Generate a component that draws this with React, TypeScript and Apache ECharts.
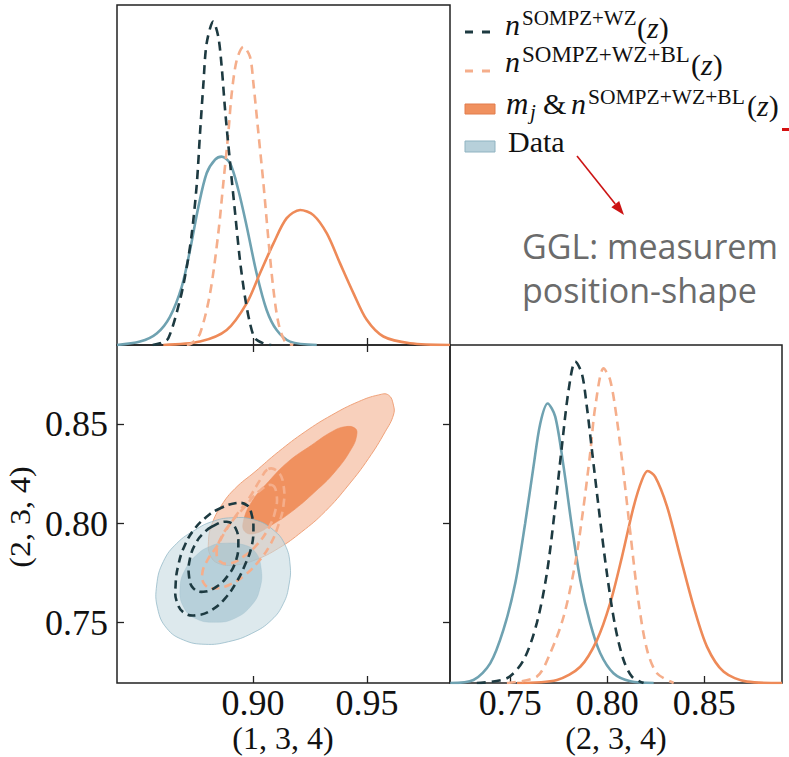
import React, { useEffect, useRef } from "react";
import * as echarts from "echarts";

// ---------- axis ranges & ticks ----------
const X1_MIN = 0.8404;
const X1_MAX = 0.9864;
const X2_MIN = 0.719;
const X2_MAX = 0.89;
const TICKS_1 = [0.9, 0.95];
const TICKS_2 = [0.75, 0.8, 0.85];
const NAME_1 = "(1, 3, 4)";
const NAME_2 = "(2, 3, 4)";

// ---------- 1D marginals, parameter (1,3,4): [value, relative density] ----------
const p1_sompzWz = [
  [0.856, 0], [0.8593, 0.005], [0.8629, 0.02], [0.868, 0.132], [0.871, 0.23], [0.8732, 0.328],
  [0.8754, 0.475], [0.8768, 0.623], [0.8783, 0.77], [0.8797, 0.887], [0.8826, 0.951], [0.8848, 0.907],
  [0.8863, 0.818], [0.8878, 0.691], [0.89, 0.534], [0.8922, 0.387], [0.8943, 0.25], [0.8965, 0.142],
  [0.8987, 0.064], [0.9009, 0.02], [0.9046, 0.005], [0.908, 0],
];
const p1_sompzWzBl = [
  [0.871, 0], [0.8732, 0.005], [0.8768, 0.034], [0.8812, 0.152], [0.8848, 0.328], [0.887, 0.475],
  [0.8892, 0.623], [0.8907, 0.74], [0.8929, 0.838], [0.8958, 0.877], [0.8987, 0.848], [0.9002, 0.77],
  [0.9024, 0.623], [0.9046, 0.475], [0.9068, 0.309], [0.909, 0.162], [0.9112, 0.064], [0.9141, 0.01],
  [0.9177, 0],
];
const p1_data = [
  [0.8404, 0], [0.8505, 0.01], [0.8578, 0.034], [0.8636, 0.083], [0.8688, 0.172], [0.8724, 0.279],
  [0.8761, 0.407], [0.8797, 0.505], [0.8834, 0.545], [0.8863, 0.554], [0.89, 0.534], [0.8936, 0.456],
  [0.8973, 0.348], [0.9016, 0.211], [0.906, 0.103], [0.9104, 0.044], [0.9163, 0.01], [0.928, 0],
];
const p1_mj = [
  [0.8607, 0], [0.8768, 0.01], [0.8885, 0.044], [0.8973, 0.123], [0.9031, 0.211], [0.909, 0.299],
  [0.9148, 0.373], [0.9207, 0.397], [0.9265, 0.382], [0.9324, 0.328], [0.9382, 0.24], [0.9441, 0.152],
  [0.9499, 0.074], [0.9572, 0.025], [0.9689, 0.005], [0.9864, 0],
];

// ---------- 1D marginals, parameter (2,3,4) ----------
const p2_sompzWz = [
  [0.7328, 0], [0.7483, 0.014], [0.7569, 0.068], [0.7637, 0.177], [0.7689, 0.325], [0.7732, 0.522],
  [0.7766, 0.699], [0.7801, 0.867], [0.7835, 0.951], [0.7869, 0.916], [0.7895, 0.817], [0.7921, 0.689],
  [0.7955, 0.522], [0.7998, 0.325], [0.8041, 0.167], [0.8084, 0.068], [0.8127, 0.019], [0.8187, 0],
];
const p2_sompzWzBl = [
  [0.7483, 0], [0.7637, 0.019], [0.7706, 0.088], [0.7775, 0.196], [0.7835, 0.354], [0.7878, 0.522],
  [0.7912, 0.68], [0.7938, 0.817], [0.7981, 0.931], [0.8015, 0.896], [0.805, 0.778], [0.8084, 0.62],
  [0.8119, 0.443], [0.8162, 0.236], [0.8205, 0.098], [0.8256, 0.029], [0.8342, 0],
];
const p2_data = [
  [0.7191, 0], [0.7311, 0.009], [0.7397, 0.058], [0.7465, 0.157], [0.7526, 0.295], [0.7577, 0.472],
  [0.762, 0.64], [0.7655, 0.768], [0.7693, 0.827], [0.7732, 0.788], [0.7775, 0.64], [0.7818, 0.462],
  [0.7861, 0.305], [0.7912, 0.177], [0.7964, 0.088], [0.8032, 0.029], [0.8119, 0.005], [0.8239, 0],
];
const p2_mj = [
  [0.7535, 0], [0.7741, 0.009], [0.7861, 0.048], [0.7947, 0.127], [0.8015, 0.236], [0.8076, 0.374],
  [0.8136, 0.522], [0.8179, 0.601], [0.8208, 0.627], [0.8247, 0.61], [0.8308, 0.522], [0.8376, 0.374],
  [0.8445, 0.226], [0.8514, 0.107], [0.86, 0.033], [0.872, 0.004], [0.89, 0],
];

// ---------- 2D contours: [(1,3,4), (2,3,4)] ----------
const c_mj_outer = [
  [0.9616, 0.8597], [0.9594, 0.8648], [0.955, 0.8648], [0.9462, 0.8614], [0.9346, 0.8547], [0.9229, 0.8463],
  [0.9112, 0.8362], [0.9009, 0.8261], [0.8922, 0.8177], [0.8863, 0.8093], [0.8819, 0.7993], [0.8805, 0.7908],
  [0.8812, 0.7842], [0.8848, 0.7799], [0.8922, 0.7791], [0.9009, 0.7816], [0.9112, 0.7875], [0.9214, 0.7958],
  [0.9316, 0.806], [0.9419, 0.8194], [0.9507, 0.8328], [0.958, 0.8463], [0.9616, 0.8547],
];
const c_mj_inner = [
  [0.9448, 0.848], [0.9404, 0.8488], [0.9346, 0.8463], [0.9258, 0.8396], [0.9155, 0.8312], [0.9068, 0.8211],
  [0.8995, 0.811], [0.8958, 0.8009], [0.8965, 0.7959], [0.9009, 0.795], [0.9082, 0.7993], [0.917, 0.806],
  [0.9272, 0.816], [0.936, 0.8261], [0.9433, 0.8379], [0.9455, 0.8446],
];
const c_data_outer = [
  [0.8907, 0.8029], [0.9009, 0.8018], [0.909, 0.7967], [0.9141, 0.7892], [0.9163, 0.7791], [0.9158, 0.769],
  [0.9134, 0.7598], [0.9082, 0.7514], [0.8995, 0.7446], [0.8892, 0.7404], [0.879, 0.7391], [0.8695, 0.7413],
  [0.8622, 0.7472], [0.8582, 0.7572], [0.8578, 0.769], [0.8607, 0.7808], [0.8666, 0.79], [0.8746, 0.7967],
  [0.8819, 0.8009],
];
const c_data_inner = [
  [0.8863, 0.79], [0.8951, 0.7895], [0.9009, 0.7858], [0.9036, 0.7774], [0.9031, 0.7673], [0.8995, 0.7589],
  [0.8921, 0.7522], [0.8834, 0.7502], [0.8746, 0.7522], [0.8695, 0.7581], [0.868, 0.7673], [0.8702, 0.7766],
  [0.8761, 0.785], [0.8819, 0.7888],
];
const c_wz_outer = [
  [0.8841, 0.8068], [0.8922, 0.8102], [0.8973, 0.8093], [0.8995, 0.8043], [0.9002, 0.7959], [0.8992, 0.7875],
  [0.8965, 0.7791], [0.8929, 0.7707], [0.8878, 0.7623], [0.8819, 0.7564], [0.8761, 0.7539], [0.8702, 0.7547],
  [0.8666, 0.7606], [0.8661, 0.769], [0.8673, 0.7791], [0.8702, 0.7892], [0.8746, 0.7976], [0.8797, 0.8034],
];
const c_wz_inner = [
  [0.8819, 0.7984], [0.8885, 0.8009], [0.8924, 0.7976], [0.8936, 0.7892], [0.8924, 0.7808], [0.8892, 0.774],
  [0.8841, 0.7682], [0.8783, 0.7656], [0.8739, 0.7673], [0.872, 0.7732], [0.8724, 0.7824], [0.8753, 0.7908],
  [0.879, 0.7959],
];
const c_wzbl_outer = [
  [0.9068, 0.8275], [0.9112, 0.8258], [0.9134, 0.8194], [0.9134, 0.8093], [0.9112, 0.7993], [0.9075, 0.7892],
  [0.9024, 0.7808], [0.8965, 0.774], [0.89, 0.7693], [0.8834, 0.7673], [0.879, 0.769], [0.8778, 0.7749],
  [0.8805, 0.7824], [0.8841, 0.7883], [0.8878, 0.7959], [0.8922, 0.8034], [0.8987, 0.8135], [0.9031, 0.8219],
];
const c_wzbl_inner = [
  [0.9082, 0.8194], [0.9104, 0.8144], [0.9097, 0.806], [0.9068, 0.7976], [0.9017, 0.7892], [0.8958, 0.7833],
  [0.89, 0.7799], [0.8856, 0.7808], [0.8841, 0.7858], [0.8863, 0.7934], [0.8907, 0.8009], [0.8965, 0.8085],
  [0.9024, 0.816],
];

// ---------- styling ----------
const DARK = "#1d3a41";
const LIGHT_OR = "#f5ae8b";
const ORANGE = "#ee8a58";
const TEAL = "#6fa2b1";
const AX = "#222";
const SERIF = "Liberation Serif";

const line1D = (data: number[][], color: string, dashed: boolean, xi: number, yi: number, z: number) => ({
  type: "line",
  xAxisIndex: xi,
  yAxisIndex: yi,
  data,
  showSymbol: false,
  symbol: "none",
  smooth: 0.3,
  silent: true,
  z,
  lineStyle: { color, width: 2.6, type: dashed ? [9, 6] : "solid" },
});

const poly = (pts: number[][], style: any, z: number) => ({
  type: "custom",
  coordinateSystem: "cartesian2d",
  xAxisIndex: 1,
  yAxisIndex: 1,
  data: [pts[0]],
  silent: true,
  clip: true,
  z,
  renderItem: (_p: any, api: any) => ({
    type: "polygon",
    shape: { points: pts.map((p) => api.coord(p)), smooth: 0.45 },
    style,
  }),
});

const tickCfg = (vals: number[], show = true) => ({
  show,
  inside: true,
  length: 7,
  customValues: vals,
  lineStyle: { color: AX, width: 1.3 },
});
const labelCfg = (vals: number[], show: boolean, margin: number) => ({
  show,
  customValues: vals,
  margin,
  fontFamily: SERIF,
  fontSize: 36,
  color: "#111",
  formatter: (v: number) => v.toFixed(2),
});

// text helper anchored at (x, baseline)
const T = (x: number, baseline: number, text: string, size: number, italic = false, extra: any = {}, scaleY = 1) => ({
  type: "text",
  x,
  y: baseline,
  scaleY,
  silent: true,
  style: {
    x: 0,
    y: -0.3375 * size,
    text,
    fontFamily: SERIF,
    fontSize: size,
    fontStyle: italic ? "italic" : "normal",
    fill: "#111",
    align: "left",
    verticalAlign: "middle",
    ...extra,
  },
});
const ZRICH = { rich: { i: { fontStyle: "italic", fontSize: 30, fontFamily: SERIF, fill: "#111" } } };
const ZPAREN = (x: number, baseline: number) => T(x, baseline, "({i|z})", 30, false, ZRICH);

function buildOption() {
  const grid = [
    { left: 117, top: 5, width: 333, height: 340 },
    { left: 117, top: 345, width: 333, height: 338 },
    { left: 450, top: 345, width: 332, height: 338 },
  ].map((g) => ({ ...g, show: true, borderColor: AX, borderWidth: 1.5, backgroundColor: "transparent", containLabel: false, outerBoundsMode: "none" }));

  const xAxis = [
    { gridIndex: 0, type: "value", min: X1_MIN, max: X1_MAX, position: "bottom", axisLine: { show: false }, axisTick: tickCfg(TICKS_1), axisLabel: labelCfg(TICKS_1, false, 4), splitLine: { show: false } },
    { gridIndex: 1, type: "value", min: X1_MIN, max: X1_MAX, position: "bottom", axisLine: { show: false }, axisTick: tickCfg(TICKS_1), axisLabel: labelCfg(TICKS_1, true, 2), splitLine: { show: false } },
    { gridIndex: 1, type: "value", min: X1_MIN, max: X1_MAX, position: "top", axisLine: { show: false }, axisTick: tickCfg(TICKS_1), axisLabel: { show: false }, splitLine: { show: false } },
    { gridIndex: 2, type: "value", min: X2_MIN, max: X2_MAX, position: "bottom", axisLine: { show: false }, axisTick: tickCfg(TICKS_2), axisLabel: labelCfg(TICKS_2, true, 2), splitLine: { show: false } },
  ];
  const yAxis = [
    { gridIndex: 0, type: "value", min: 0, max: 1, show: false },
    { gridIndex: 1, type: "value", min: 0.7196, max: X2_MAX, position: "left", axisLine: { show: false }, axisTick: tickCfg(TICKS_2), axisLabel: labelCfg(TICKS_2, true, 9), splitLine: { show: false } },
    { gridIndex: 1, type: "value", min: 0.7196, max: X2_MAX, position: "right", axisLine: { show: false }, axisTick: tickCfg(TICKS_2), axisLabel: { show: false }, splitLine: { show: false } },
    { gridIndex: 2, type: "value", min: 0, max: 1, show: false },
  ];

  const dashed = (c: string) => ({ fill: "none", stroke: c, lineWidth: 2.6, lineDash: [8, 5] });

  const series: any[] = [
    line1D(p1_data, TEAL, false, 0, 0, 2),
    line1D(p1_mj, ORANGE, false, 0, 0, 2),
    line1D(p1_sompzWzBl, LIGHT_OR, true, 0, 0, 3),
    line1D(p1_sompzWz, DARK, true, 0, 0, 3),
    line1D(p2_data, TEAL, false, 3, 3, 2),
    line1D(p2_mj, ORANGE, false, 3, 3, 2),
    line1D(p2_sompzWzBl, LIGHT_OR, true, 3, 3, 3),
    line1D(p2_sompzWz, DARK, true, 3, 3, 3),
    poly(c_mj_outer, { fill: "#f8d0bc", stroke: "#f0a27a", lineWidth: 1 }, 2),
    poly(c_mj_inner, { fill: "#f0915f", stroke: "#ee8a58", lineWidth: 0.6 }, 2),
    poly(c_data_outer, { fill: "rgba(198,218,225,0.6)", stroke: "rgba(140,180,195,0.7)", lineWidth: 1 }, 2),
    poly(c_data_inner, { fill: "rgba(158,191,205,0.6)", stroke: "rgba(140,180,195,0.4)", lineWidth: 0.6 }, 2),
    poly(c_wzbl_outer, dashed(LIGHT_OR), 3),
    poly(c_wzbl_inner, dashed(LIGHT_OR), 3),
    poly(c_wz_outer, dashed(DARK), 4),
    poly(c_wz_inner, dashed(DARK), 4),
  ];

  // arrow geometry
  const ax0 = 577, ay0 = 156, ax1 = 624, ay1 = 215;
  const len = Math.hypot(ax1 - ax0, ay1 - ay0);
  const ux = (ax1 - ax0) / len, uy = (ay1 - ay0) / len;
  const bx = ax1 - 14 * ux, by = ay1 - 14 * uy;
  const px = -uy * 5, py = ux * 5;

  const graphic: any[] = [
    // legend markers
    { type: "line", silent: true, shape: { x1: 465, y1: 32, x2: 491, y2: 32 }, style: { stroke: DARK, lineWidth: 2.8, lineDash: [8, 9] } },
    { type: "line", silent: true, shape: { x1: 465, y1: 71, x2: 491, y2: 71 }, style: { stroke: LIGHT_OR, lineWidth: 2.8, lineDash: [8, 9] } },
    { type: "rect", silent: true, shape: { x: 465, y: 104, width: 30, height: 10 }, style: { fill: "#f0915f", stroke: "#e27d4c", lineWidth: 1 } },
    { type: "rect", silent: true, shape: { x: 465, y: 141, width: 30, height: 11 }, style: { fill: "#b7d0da", stroke: "#8fb3c1", lineWidth: 1 } },
    // legend texts
    T(505, 35, "n", 30, true),
    T(522, 25, "SOMPZ+WZ", 21),
    ZPAREN(637, 38),
    T(505, 72, "n", 30, true),
    T(522, 62, "SOMPZ+WZ+BL", 23),
    ZPAREN(691, 75),
    T(506, 114, "m", 31, true),
    T(530, 119, "j", 21, true),
    T(543, 114, "&", 30),
    T(571, 114, "n", 30, true),
    T(588, 104, "SOMPZ+WZ+BL", 21.5),
    ZPAREN(747, 116),
    T(508, 152, "Data", 30),
    // axis names
    T(283, 749, NAME_1, 32, false, { align: "center" }),
    T(616, 749, NAME_2, 32, false, { align: "center" }),
    { type: "text", x: 30, y: 517, rotation: Math.PI / 2, silent: true, scaleY: 0.9,
      style: { x: 0, y: -0.3375 * 32, text: NAME_2, fontFamily: SERIF, fontSize: 32, fill: "#111", align: "center", verticalAlign: "middle" } },
    // annotation
    { type: "line", silent: true, shape: { x1: ax0, y1: ay0, x2: bx, y2: by }, style: { stroke: "#cc1414", lineWidth: 1.6 } },
    { type: "polygon", silent: true, shape: { points: [[ax1, ay1], [bx + px, by + py], [bx - px, by - py]] }, style: { fill: "#cc1414" } },
    { type: "rect", silent: true, shape: { x: 782, y: 128, width: 7, height: 3 }, style: { fill: "#d41010" } },
    { type: "text", x: 522, y: 259, silent: true, style: { x: 0, y: -0.388 * 34, text: "GGL: measurem", fontFamily: "Open Sans", fontSize: 34, lineHeight: 34, fill: "#6b6b6b", align: "left", verticalAlign: "middle" } },
    { type: "text", x: 522, y: 303, silent: true, style: { x: 0, y: -0.388 * 34, text: "position-shape", fontFamily: "Open Sans", fontSize: 34, lineHeight: 34, fill: "#6b6b6b", align: "left", verticalAlign: "middle" } },
  ];

  return {
    animation: false,
    backgroundColor: "#fff",
    grid,
    xAxis,
    yAxis,
    series,
    graphic,
  };
}

export default function App() {
  const ref = useRef<HTMLDivElement>(null);
  useEffect(() => {
    if (!ref.current) return;
    const chart = echarts.init(ref.current, null, { renderer: "svg" });
    chart.setOption(buildOption() as any);
    return () => chart.dispose();
  }, []);
  return (
    <div
      ref={ref}
      style={{ position: "fixed", left: 0, top: 0, width: 789, height: 757, background: "#fff" }}
    />
  );
}
